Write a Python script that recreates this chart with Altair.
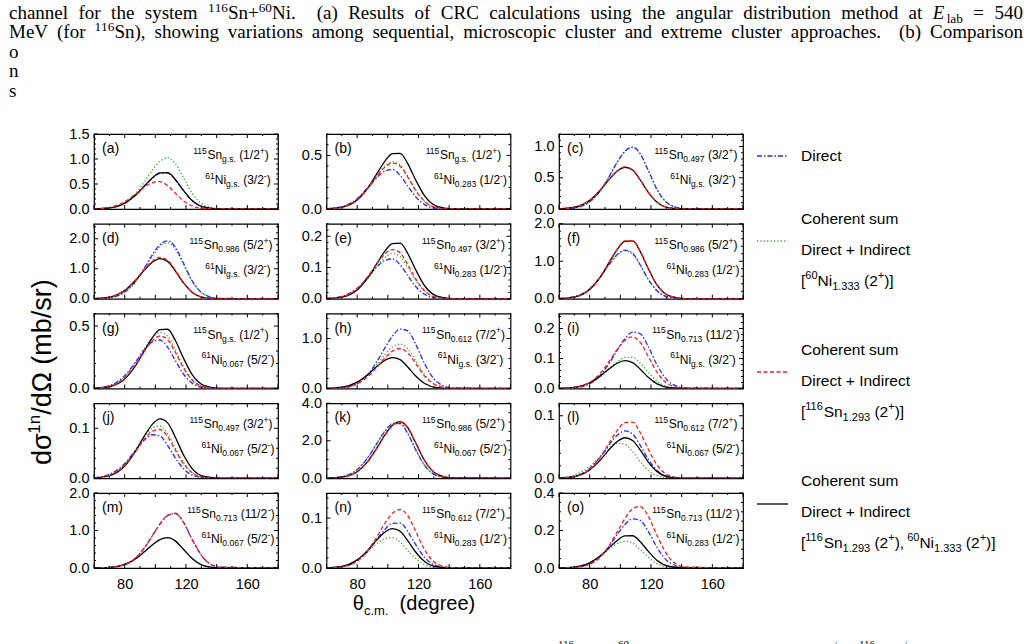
import altair as alt
import pandas as pd

# ---------------------------------------------------------------- data
# scattering angle grid (degrees, c.m.) shared by all curves
THETA = [60, 70, 80, 87, 93, 98, 103, 108, 113, 118, 124, 132, 142, 180]

# one-neutron transfer cross sections (mb/sr), one row per panel (a)..(o)
DIRECT = [
    [0.002, 0.021, 0.114, 0.272, 0.459, 0.612, 0.712, 0.717, 0.584, 0.380, 0.168, 0.034, 0.002, 0],
    [0.003, 0.022, 0.098, 0.200, 0.296, 0.354, 0.368, 0.314, 0.214, 0.116, 0.041, 0.006, 0.000, 0],
    [0.002, 0.019, 0.115, 0.295, 0.535, 0.752, 0.925, 0.990, 0.884, 0.629, 0.310, 0.072, 0.005, 0],
    [0.004, 0.037, 0.224, 0.575, 1.042, 1.467, 1.803, 1.930, 1.723, 1.226, 0.604, 0.141, 0.010, 0],
    [0.0010, 0.0077, 0.0339, 0.0691, 0.1025, 0.1225, 0.1274, 0.1087, 0.0740, 0.0401, 0.0142, 0.0022, 0.0001, 0],
    [0.007, 0.055, 0.268, 0.589, 0.933, 1.178, 1.296, 1.209, 0.901, 0.534, 0.212, 0.038, 0.001, 0],
    [0.003, 0.023, 0.103, 0.211, 0.312, 0.373, 0.388, 0.331, 0.225, 0.122, 0.043, 0.007, 0.000, 0],
    [0.001, 0.014, 0.102, 0.281, 0.544, 0.809, 1.049, 1.187, 1.152, 0.898, 0.493, 0.133, 0.012, 0],
    [0.0002, 0.0023, 0.0162, 0.0445, 0.0861, 0.1281, 0.1661, 0.1879, 0.1824, 0.1421, 0.0781, 0.0211, 0.0019, 0],
    [0.0011, 0.0075, 0.0294, 0.0554, 0.0769, 0.0870, 0.0845, 0.0658, 0.0409, 0.0202, 0.0064, 0.0009, 0.0000, 0],
    [0.009, 0.086, 0.463, 1.105, 1.868, 2.492, 2.899, 2.917, 2.376, 1.547, 0.683, 0.140, 0.009, 0],
    [0.0004, 0.0032, 0.0157, 0.0344, 0.0546, 0.0689, 0.0758, 0.0707, 0.0527, 0.0312, 0.0124, 0.0022, 0.0001, 0],
    [0.001, 0.012, 0.088, 0.263, 0.543, 0.853, 1.169, 1.397, 1.453, 1.240, 0.761, 0.238, 0.025, 0],
    [0.0003, 0.0027, 0.0143, 0.0341, 0.0576, 0.0769, 0.0894, 0.0900, 0.0733, 0.0477, 0.0211, 0.0043, 0.0003, 0],
    [0.0003, 0.003, 0.023, 0.062, 0.120, 0.179, 0.232, 0.262, 0.254, 0.198, 0.109, 0.029, 0.003, 0],
]
NI60 = [
    [0.002, 0.019, 0.118, 0.304, 0.551, 0.775, 0.953, 1.020, 0.911, 0.648, 0.319, 0.074, 0.005, 0],
    [0.002, 0.018, 0.091, 0.199, 0.316, 0.399, 0.439, 0.409, 0.305, 0.181, 0.072, 0.013, 0.000, 0],
    [0.002, 0.019, 0.114, 0.294, 0.532, 0.749, 0.920, 0.985, 0.880, 0.625, 0.308, 0.072, 0.005, 0],
    [0.004, 0.035, 0.216, 0.554, 1.004, 1.414, 1.737, 1.860, 1.661, 1.181, 0.582, 0.136, 0.009, 0],
    [0.0007, 0.0061, 0.0299, 0.0657, 0.1041, 0.1314, 0.1446, 0.1349, 0.1005, 0.0596, 0.0236, 0.0042, 0.0001, 0],
    [0.006, 0.054, 0.264, 0.580, 0.919, 1.160, 1.276, 1.190, 0.887, 0.526, 0.209, 0.037, 0.001, 0],
    [0.002, 0.019, 0.093, 0.204, 0.323, 0.408, 0.449, 0.419, 0.312, 0.185, 0.073, 0.013, 0.000, 0],
    [0.002, 0.017, 0.103, 0.265, 0.481, 0.676, 0.831, 0.890, 0.795, 0.565, 0.279, 0.065, 0.004, 0],
    [0.0003, 0.0031, 0.0165, 0.0394, 0.0667, 0.0889, 0.1035, 0.1041, 0.0848, 0.0552, 0.0244, 0.0050, 0.0003, 0],
    [0.0008, 0.0063, 0.0278, 0.0567, 0.0841, 0.1005, 0.1045, 0.0891, 0.0607, 0.0329, 0.0117, 0.0018, 0.0001, 0],
    [0.009, 0.087, 0.468, 1.116, 1.887, 2.517, 2.928, 2.946, 2.400, 1.563, 0.690, 0.141, 0.009, 0],
    [0.0007, 0.0048, 0.0189, 0.0356, 0.0495, 0.0560, 0.0543, 0.0423, 0.0263, 0.0130, 0.0041, 0.0006, 0.0000, 0],
    [0.002, 0.015, 0.093, 0.240, 0.435, 0.612, 0.752, 0.805, 0.719, 0.511, 0.252, 0.059, 0.004, 0],
    [0.0005, 0.0037, 0.0162, 0.0329, 0.0489, 0.0584, 0.0607, 0.0518, 0.0353, 0.0191, 0.0068, 0.0010, 0.0001, 0],
    [0.0007, 0.006, 0.029, 0.065, 0.103, 0.130, 0.143, 0.133, 0.099, 0.059, 0.023, 0.004, 0.0001, 0],
]
SN116 = [
    [0.004, 0.033, 0.146, 0.297, 0.441, 0.526, 0.547, 0.467, 0.318, 0.172, 0.061, 0.009, 0.001, 0],
    [0.002, 0.018, 0.089, 0.195, 0.309, 0.390, 0.429, 0.400, 0.298, 0.177, 0.070, 0.012, 0.000, 0],
    [0.003, 0.028, 0.139, 0.306, 0.485, 0.612, 0.673, 0.628, 0.468, 0.277, 0.110, 0.020, 0.001, 0],
    [0.007, 0.058, 0.284, 0.625, 0.991, 1.250, 1.376, 1.283, 0.956, 0.567, 0.225, 0.040, 0.001, 0],
    [0.0008, 0.0066, 0.0325, 0.0716, 0.1134, 0.1431, 0.1575, 0.1469, 0.1095, 0.0649, 0.0258, 0.0046, 0.0002, 0],
    [0.005, 0.046, 0.246, 0.588, 0.994, 1.326, 1.542, 1.552, 1.264, 0.823, 0.363, 0.074, 0.005, 0],
    [0.002, 0.018, 0.087, 0.190, 0.302, 0.381, 0.419, 0.391, 0.291, 0.173, 0.068, 0.012, 0.000, 0],
    [0.002, 0.015, 0.093, 0.238, 0.432, 0.608, 0.747, 0.800, 0.714, 0.508, 0.250, 0.058, 0.004, 0],
    [0.0003, 0.0033, 0.0200, 0.0513, 0.0929, 0.1307, 0.1606, 0.1720, 0.1536, 0.1092, 0.0538, 0.0126, 0.0009, 0],
    [0.0008, 0.0059, 0.0260, 0.0529, 0.0785, 0.0938, 0.0975, 0.0832, 0.0566, 0.0307, 0.0109, 0.0017, 0.0001, 0],
    [0.006, 0.057, 0.348, 0.894, 1.620, 2.280, 2.802, 3.000, 2.679, 1.905, 0.939, 0.219, 0.015, 0],
    [0.0003, 0.0026, 0.0142, 0.0340, 0.0574, 0.0766, 0.0891, 0.0897, 0.0730, 0.0476, 0.0210, 0.0043, 0.0003, 0],
    [0.001, 0.012, 0.088, 0.264, 0.546, 0.857, 1.175, 1.404, 1.460, 1.245, 0.764, 0.239, 0.025, 0],
    [0.0002, 0.0022, 0.0136, 0.0349, 0.0632, 0.0889, 0.1093, 0.1170, 0.1045, 0.0743, 0.0366, 0.0085, 0.0006, 0],
    [0.0003, 0.003, 0.020, 0.059, 0.123, 0.193, 0.264, 0.316, 0.328, 0.280, 0.172, 0.054, 0.006, 0],
]
BOTH = [
    [0.002, 0.021, 0.115, 0.275, 0.465, 0.621, 0.722, 0.727, 0.592, 0.386, 0.170, 0.035, 0.002, 0],
    [0.002, 0.015, 0.083, 0.197, 0.333, 0.445, 0.517, 0.520, 0.424, 0.276, 0.122, 0.025, 0.002, 0],
    [0.003, 0.028, 0.138, 0.304, 0.481, 0.607, 0.668, 0.623, 0.464, 0.275, 0.109, 0.019, 0.001, 0],
    [0.007, 0.056, 0.276, 0.607, 0.962, 1.214, 1.336, 1.246, 0.929, 0.551, 0.218, 0.039, 0.001, 0],
    [0.0005, 0.0052, 0.0282, 0.0673, 0.1138, 0.1519, 0.1767, 0.1777, 0.1448, 0.0943, 0.0416, 0.0085, 0.0005, 0],
    [0.005, 0.046, 0.245, 0.584, 0.988, 1.317, 1.532, 1.542, 1.256, 0.818, 0.361, 0.074, 0.005, 0],
    [0.001, 0.014, 0.075, 0.180, 0.304, 0.405, 0.471, 0.474, 0.386, 0.252, 0.111, 0.023, 0.001, 0],
    [0.003, 0.026, 0.128, 0.281, 0.445, 0.562, 0.618, 0.577, 0.430, 0.255, 0.101, 0.018, 0.001, 0],
    [0.0005, 0.0039, 0.0192, 0.0421, 0.0668, 0.0843, 0.0927, 0.0865, 0.0644, 0.0382, 0.0152, 0.0027, 0.0001, 0],
    [0.0006, 0.0050, 0.0245, 0.0539, 0.0854, 0.1078, 0.1186, 0.1107, 0.0825, 0.0489, 0.0194, 0.0035, 0.0001, 0],
    [0.006, 0.057, 0.350, 0.900, 1.631, 2.295, 2.821, 3.020, 2.697, 1.918, 0.945, 0.220, 0.015, 0],
    [0.0003, 0.0027, 0.0134, 0.0294, 0.0467, 0.0589, 0.0648, 0.0605, 0.0450, 0.0267, 0.0106, 0.0019, 0.0001, 0],
    [0.002, 0.015, 0.094, 0.241, 0.437, 0.616, 0.757, 0.810, 0.723, 0.514, 0.254, 0.059, 0.004, 0],
    [0.0004, 0.0033, 0.0163, 0.0358, 0.0567, 0.0716, 0.0788, 0.0735, 0.0547, 0.0325, 0.0129, 0.0023, 0.0001, 0],
    [0.0005, 0.005, 0.027, 0.065, 0.110, 0.147, 0.171, 0.172, 0.140, 0.091, 0.040, 0.008, 0.0005, 0],
]

TAGS = ["(a)", "(b)", "(c)", "(d)", "(e)", "(f)", "(g)", "(h)", "(i)",
        "(j)", "(k)", "(l)", "(m)", "(n)", "(o)"]
# (level in MeV, spin, parity) of the 115Sn and 61Ni final states
SN_STATE = [("g.s.", "1/2", "+"), ("g.s.", "1/2", "+"), ("0.497", "3/2", "+"),
            ("0.986", "5/2", "+"), ("0.497", "3/2", "+"), ("0.986", "5/2", "+"),
            ("g.s.", "1/2", "+"), ("0.612", "7/2", "+"), ("0.713", "11/2", "-"),
            ("0.497", "3/2", "+"), ("0.986", "5/2", "+"), ("0.612", "7/2", "+"),
            ("0.713", "11/2", "-"), ("0.612", "7/2", "+"), ("0.713", "11/2", "-")]
NI_STATE = [("g.s.", "3/2", "-"), ("0.283", "1/2", "-"), ("g.s.", "3/2", "-"),
            ("g.s.", "3/2", "-"), ("0.283", "1/2", "-"), ("0.283", "1/2", "-"),
            ("0.067", "5/2", "-"), ("g.s.", "3/2", "-"), ("g.s.", "3/2", "-"),
            ("0.067", "5/2", "-"), ("0.067", "5/2", "-"), ("0.067", "5/2", "-"),
            ("0.067", "5/2", "-"), ("0.283", "1/2", "-"), ("0.283", "1/2", "-")]

Y_MAX = [1.5, 0.7, 1.2, 2.5, 0.24, 2.0, 0.6, 1.5, 0.25, 0.15, 4.0, 0.12, 2.0, 0.15, 0.4]
Y_LABELS = [[0, 0.5, 1.0, 1.5], [0, 0.5], [0, 0.5, 1.0], [0, 1.0, 2.0], [0, 0.1, 0.2],
            [0, 1.0, 2.0], [0, 0.5], [0, 1.0], [0, 0.1, 0.2], [0, 0.1], [0, 2.0, 4.0],
            [0, 0.1], [0, 1.0, 2.0], [0, 0.1], [0, 0.2, 0.4]]
Y_MINOR = [0.1, 0.1, 0.1, 0.2, 0.02, 0.2, 0.1, 0.2, 0.02, 0.02, 0.5, 0.02, 0.2, 0.02, 0.05]
X_LABELS = [80, 120, 160]
X_MINOR = 10

CAPTION_1 = [("channel for the system ", "n"), ("116", "u"), ("Sn+", "n"), ("60", "u"),
             ("Ni.  (a) Results of CRC calculations using the angular distribution method at ", "n"),
             ("E", "i"), ("lab", "d"), (" = 540", "n")]
CAPTION_2 = [("MeV (for ", "n"), ("116", "u"),
             ("Sn), showing variations among sequential, microscopic cluster and "
              "extreme cluster approaches.  (b) Comparison", "n")]
CAPTION_CUT = ["o", "n", "s"]
CAPTION_FOOT = [("116", 557), ("60", 617), ("+", 832), ("116", 858), ("+", 902)]

# ---------------------------------------------------------------- style
SANS = "Liberation Sans"
SERIF = "Liberation Serif"
W, H = 184, 75                 # one panel
COL_GAP, ROW_GAP = 48.5, 14.75
OX, OY = 93, 131               # page position of panel (a)

SERIES = [  # drawing order: green, blue, black, red
    (NI60, "#2fa52f", [1.2, 2.2]),
    (DIRECT, "#2a2aff", [5, 2, 1.5, 2]),
    (BOTH, "#000000", None),
    (SN116, "#ff1a1a", [4, 2.5]),
]

ARIAL = {" ": .278, "(": .333, ")": .333, "+": .584, "-": .333, ".": .278, "/": .278,
         ",": .278, "[": .278, "]": .278, "=": .584, "θ": .556, "σ": .6, "Ω": .77}
ARIAL.update({d: .556 for d in "0123456789"})
ARIAL.update(zip("ABCDEFGHIJKLMNOPQRSTUVWXYZ",
                 [.667, .667, .722, .722, .667, .611, .778, .722, .278, .5, .667, .556, .833,
                  .722, .778, .667, .778, .722, .667, .611, .722, .667, .944, .667, .667, .611]))
ARIAL.update(zip("abcdefghijklmnopqrstuvwxyz",
                 [.556, .556, .5, .556, .556, .278, .556, .556, .222, .222, .5, .222, .833,
                  .556, .556, .556, .556, .333, .5, .278, .556, .5, .722, .5, .5, .5]))
TIMES = {" ": .25, "(": .333, ")": .333, "+": .564, "=": .564, ",": .25, ".": .25}
TIMES.update({d: .5 for d in "0123456789"})
TIMES.update(zip("ABCDEFGHIJKLMNOPQRSTUVWXYZ",
                 [.722, .667, .667, .722, .611, .556, .722, .722, .333, .389, .722, .611, .889,
                  .722, .722, .556, .722, .667, .556, .611, .722, .722, .944, .722, .722, .611]))
TIMES.update(zip("abcdefghijklmnopqrstuvwxyz",
                 [.444, .5, .444, .5, .444, .333, .5, .5, .278, .278, .5, .278, .778,
                  .5, .5, .5, .5, .333, .389, .278, .5, .5, .722, .5, .5, .444]))


def text_w(s, fs, table=ARIAL):
    return sum(table.get(c, .55) for c in s) * fs


def runs_w(runs, size, small):
    return sum(text_w(t, small if k in "ud" else size) for t, k in runs)


def lay_runs(runs, x0, base, size, small):
    """Left-to-right run of normal / superscript / subscript pieces (pixels)."""
    rows, x = [], x0
    for t, k in runs:
        fs = small if k in "ud" else size
        dy = -0.42 * size if k == "u" else (0.25 * size if k == "d" else 0.0)
        lead = len(t) - len(t.lstrip(" "))
        rows.append(dict(px=x + text_w(" " * lead, fs), py=base + dy, txt=t.strip(" "), fs=fs))
        x += text_w(t, fs)
    return rows


def lay_runs_up(runs, xb, y0, size, small):
    """Same, for text rotated to read bottom-to-top."""
    rows, y = [], y0
    for t, k in runs:
        fs = small if k in "ud" else size
        dx = -0.42 * size if k == "u" else (0.25 * size if k == "d" else 0.0)
        lead = len(t) - len(t.lstrip(" "))
        rows.append(dict(px=xb + dx, py=y - text_w(" " * lead, fs), txt=t.strip(" "), fs=fs))
        y -= text_w(t, fs)
    return rows


def justify(runs, x0, x1, base, size):
    """Caption line: glyphs at natural width, inter-word spaces stretched to fill x0..x1."""
    glyphs, n_space = 0.0, 0
    for t, k in runs:
        fs = size * (0.7 if k in "ud" else 1.0)
        for ch in t:
            if ch == " ":
                n_space += 1
            else:
                glyphs += TIMES.get(ch, .5) * fs
        if k == "i":
            glyphs += 0.12 * size
    gap = (x1 - x0 - glyphs) / max(n_space, 1)
    rows, x = [], x0
    for t, k in runs:
        fs = size * (0.7 if k in "ud" else 1.0)
        dy = -0.38 * size if k == "u" else (0.2 * size if k == "d" else 0.0)
        for ch in t:
            if ch == " ":
                x += gap
                continue
            rows.append(dict(px=x - OX, py=base + dy - OY, txt=ch, fs=fs, it=(k == "i")))
            x += TIMES.get(ch, .5) * fs
        if k == "i":
            x += 0.12 * size
    return rows


def nuclide(mass, sym, state):
    level, spin, parity = state
    return [(mass, "u"), (sym, "n"), (level, "d"), (" (" + spin, "n"), (parity, "u"), (")", "n")]


def steps(top, step):
    n = int(top / step + 1e-9)
    return [round(k * step, 6) for k in range(n + 1)]


def build_panel(i):
    ymax = Y_MAX[i]
    xs = alt.Scale(domain=[60, 180], nice=False, zero=False)
    ys = alt.Scale(domain=[0, ymax], nice=False, zero=False)
    x_axis = (alt.Axis(values=X_LABELS, format="d", ticks=False, domain=False, grid=False,
                       labelPadding=9, title=None) if i >= 12 else None)
    y_axis = alt.Axis(values=Y_LABELS[i], format=".1f", ticks=False, domain=False,
                      grid=False, labelPadding=5, title=None)

    # every layer carries the same axis definition so the shared axes merge cleanly
    def X(field):
        return alt.X(field, scale=xs, axis=x_axis)

    def Y(field):
        return alt.Y(field, scale=ys, axis=y_axis)

    def text_layer(rows, font=SANS, style="normal", angle=0):
        df = pd.DataFrame(rows)
        df["tx"] = 60 + df["px"] * 120.0 / W
        df["ty"] = ymax * (1 - df["py"] / H)
        return alt.Chart(df).mark_text(
            font=font, fontStyle=style, align="left", baseline="alphabetic",
            angle=angle, color="black"
        ).encode(
            x=X("tx:Q"), y=Y("ty:Q"), text="txt:N",
            size=alt.Size("fs:Q", scale=None, legend=None),
        )

    layers = []
    for table, color, dash in SERIES:
        df = pd.DataFrame({"theta": THETA, "sigma": table[i]})
        mk = dict(color=color, strokeWidth=1.3, interpolate="monotone", clip=True)
        if dash:
            mk["strokeDash"] = dash
        layers.append(alt.Chart(df).mark_line(**mk).encode(x=X("theta:Q"), y=Y("sigma:Q")))

    # inward ticks on all four sides, lengths in pixels turned into data units
    xt = []
    for t in range(60, 181, X_MINOR):
        ln = (4 if t % 20 == 0 else 2) * ymax / H
        xt += [dict(t=t, a=0, b=ln), dict(t=t, a=ymax, b=ymax - ln)]
    layers.append(alt.Chart(pd.DataFrame(xt)).mark_rule(color="black", strokeWidth=1).encode(
        x=X("t:Q"), y=Y("a:Q"), y2="b:Q"))
    yt = []
    majors = set(round(v, 6) for v in Y_LABELS[i])
    for v in steps(ymax, Y_MINOR[i]):
        ln = (4 if v in majors else 2) * 120.0 / W
        yt += [dict(v=v, a=60, b=60 + ln), dict(v=v, a=180, b=180 - ln)]
    layers.append(alt.Chart(pd.DataFrame(yt)).mark_rule(color="black", strokeWidth=1).encode(
        y=Y("v:Q"), x=X("a:Q"), x2="b:Q"))

    # panel tag and final-state labels
    rows = [dict(px=8, py=19, txt=TAGS[i], fs=14)]
    l1 = nuclide("115", "Sn", SN_STATE[i])
    l2 = nuclide("61", "Ni", NI_STATE[i])
    rows += lay_runs(l1, 137 - runs_w(l1, 12, 8.5) / 2, 25, 12, 8.5)
    rows += lay_runs(l2, 144 - runs_w(l2, 12, 8.5) / 2, 50, 12, 8.5)
    layers.append(text_layer(rows))

    if i == 0:
        layers += page_layers(text_layer)
    return alt.layer(*layers).properties(width=W, height=H)


def page_layers(text_layer):
    out = []
    # caption above the figure
    cap = justify(CAPTION_1, 8, 1022, 16, 19) + justify(CAPTION_2, 8, 1022, 35, 19)
    cap += [dict(px=8 - OX, py=54.5 + 19.5 * k - OY, txt=c, fs=19, it=False)
            for k, c in enumerate(CAPTION_CUT)]
    cap += [dict(px=x - OX, py=645 - OY, txt=t, fs=11, it=False) for t, x in CAPTION_FOOT]
    out.append(text_layer([r for r in cap if not r["it"]], font=SERIF))
    out.append(text_layer([r for r in cap if r["it"]], font=SERIF, style="italic"))

    # x-axis title
    xt = [("θ", "n"), ("c.m.", "d"), ("  (degree)", "n")]
    rows = lay_runs(xt, 413 - runs_w(xt, 20, 13) / 2 - OX, 607 - OY, 20, 13)
    # legend text
    lx = 800 - OX
    rows.append(dict(px=lx, py=158 - OY, txt="Direct", fs=15.5))
    for base in (221, 352, 483):
        rows.append(dict(px=lx, py=base - OY, txt="Coherent sum", fs=15.5))
        rows.append(dict(px=lx, py=base + 31 - OY, txt="Direct + Indirect", fs=15.5))
    ni = [("[", "n"), ("60", "u"), ("Ni", "n"), ("1.333", "d"), (" (2", "n"), ("+", "u"), (")]", "n")]
    sn = [("[", "n"), ("116", "u"), ("Sn", "n"), ("1.293", "d"), (" (2", "n"), ("+", "u"), (")]", "n")]
    both = sn[:-1] + [("),", "n"), (" 60", "u"), ("Ni", "n"), ("1.333", "d"), (" (2", "n"),
                      ("+", "u"), (")]", "n")]
    rows += lay_runs(ni, lx, 283 - OY, 15.5, 11)
    rows += lay_runs(sn, lx, 414 - OY, 15.5, 11)
    rows += lay_runs(both, lx, 545 - OY, 15.5, 11)
    out.append(text_layer(rows))

    # y-axis title, reading upwards
    yt = [("dσ", "n"), ("1n", "u"), ("/dΩ  (mb/sr)", "n")]
    ylen = runs_w(yt, 27, 17)
    out.append(text_layer(lay_runs_up(yt, 50 - OX, 365 + ylen / 2 - OY, 27, 17), angle=270))

    # legend line samples
    one = pd.DataFrame({"k": [0]})
    for (table, color, dash), yy in zip(SERIES, (238, 153, 501, 369)):
        mk = dict(color=color, strokeWidth=1.3)
        if dash:
            mk["strokeDash"] = dash
        out.append(alt.Chart(one).mark_rule(**mk).encode(
            x=alt.value(756 - OX), x2=alt.value(787 - OX), y=alt.value(yy - OY)))
    # page corner anchor (invisible)
    out.append(alt.Chart(one).mark_rule(strokeOpacity=0).encode(
        x=alt.value(-OX + 0.5), x2=alt.value(-OX + 1.5), y=alt.value(-OY + 0.5)))
    return out


panels = [build_panel(i) for i in range(15)]

chart = alt.concat(
    *panels, columns=3, spacing={"row": ROW_GAP, "column": COL_GAP}, bounds="flush"
).properties(
    padding=0, background="white"
).configure_view(
    stroke="black", strokeWidth=1.2
).configure_axis(
    labelFont=SANS, labelFontSize=14.5, labelColor="black"
)

chart.save("out.html", embed_options={"renderer": "svg", "actions": False})
